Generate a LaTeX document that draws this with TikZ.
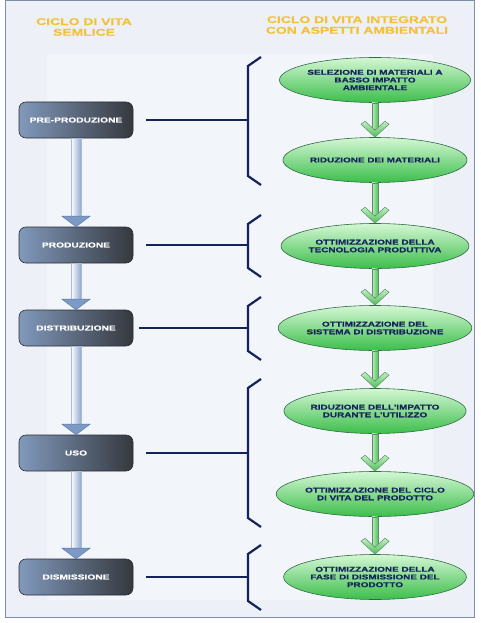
\documentclass[tikz,border=0pt]{standalone}
\usepackage{fontspec}
\usetikzlibrary{shapes.geometric,calc}
\newfontfamily\widefont{Liberation Sans}[UprightFont=* Bold, FakeStretch=1.42, FakeBold=0.6]
\definecolor{frameC}{HTML}{7D8EA8}
\definecolor{bgC}{HTML}{EDF1F7}
\definecolor{bgL}{HTML}{F2F5FA}
\definecolor{boxL}{HTML}{8199BC}
\definecolor{boxR}{HTML}{35383E}
\definecolor{boxB}{HTML}{2A2E36}
\definecolor{navyC}{HTML}{14245A}
\definecolor{goldC}{HTML}{F2C23C}
\definecolor{ellT}{HTML}{D4F7D4}
\definecolor{ellB}{HTML}{3CBE4A}
\definecolor{ellD}{HTML}{2F6A45}
\definecolor{arrB}{HTML}{7D9AC6}
\definecolor{arrBD}{HTML}{5C78A6}
\definecolor{arrG}{HTML}{4CBF55}
\definecolor{arrGL}{HTML}{C2EEC2}
\definecolor{arrGD}{HTML}{5F8C6C}
\tikzset{
  phase/.style={rounded corners=7pt, minimum width=114pt, minimum height=36pt,
    left color=boxL, right color=boxR, draw=boxB, line width=0.6pt,
    text=white, font=\widefont\fontsize{7.2}{7.7}\selectfont, inner sep=0pt},
  goal/.style={ellipse, minimum width=172pt, minimum height=45pt, inner sep=0pt,
    top color=ellT, bottom color=ellB, draw=ellD, line width=0.6pt,
    text=navyC, align=center, font=\widefont\fontsize{7}{7.7}\selectfont},
  heading/.style={text=goldC, align=center, font=\widefont\fontsize{9.8}{10.7}\selectfont},
  link/.style={draw=navyC, line width=2pt},
  bracket/.style={draw=navyC, line width=2.2pt, line join=miter},
  bshaft/.style={left color=white, right color=arrB!85, draw=arrBD!50, line width=0.4pt},
  bhead/.style={fill=arrB, draw=arrBD, line width=0.5pt},
  gshaft/.style={left color=arrGL, right color=arrG, draw=arrGD, line width=0.5pt},
  ghead/.style={top color=arrGL, bottom color=arrG, draw=arrGD, line width=0.5pt}
}
\newcommand\bluearrow[2]{%
  \path let \p1=(#1.south), \p2=(#2.north) in
    [bshaft] ({\x1-5pt},{\y1}) rectangle ({\x1+5pt},{\y2+10pt});
  \path let \p1=(#1.south), \p2=(#2.north) in
    [bhead] ({\x1-14pt},{\y2+10.5pt}) -- ({\x2},{\y2}) -- ({\x1+14pt},{\y2+10.5pt}) -- cycle;}
\newcommand\greenarrow[2]{%
  \path let \p1=(#1.south), \p2=(#2.north) in
    [gshaft] ({\x1-3.2pt},{\y1}) rectangle ({\x1+3.2pt},{\y2+8pt});
  \path let \p1=(#1.south), \p2=(#2.north) in
    [ghead] ({\x1-14pt},{\y2+13pt}) -- ({\x1-10pt},{\y2+16pt}) -- ({\x1},{\y2+7pt}) -- ({\x1+10pt},{\y2+16pt}) -- ({\x1+14pt},{\y2+13pt}) -- ({\x2},{\y2}) -- cycle;}
\newcommand\bracketpath[2]{%
  \draw[bracket] (261,#1) -- (248,{#1+9}) -- (248,{#2-9}) -- (261,#2);}
\begin{document}
\begin{tikzpicture}[x=1pt,y=-1pt]
\useasboundingbox (0,0) rectangle (481,623);
\fill[white] (0,0) rectangle (481,623);
\draw[frameC, fill=bgC, line width=1pt] (5,1) rectangle (474,617);
\fill[bgL] (47,54) rectangle (433,600);

% headings
\node[heading] (h1) at (84,27) {CICLO DI VITA\\SEMLICE};
\node[heading] (h2) at (357,25) {CICLO DI VITA INTEGRATO\\CON ASPETTI AMBIENTALI};

% left phases
\node[phase] (b1) at (76,120) {PRE-PRODUZIONE};
\node[phase] (b2) at (76,245) {PRODUZIONE};
\node[phase] (b3) at (76,328) {DISTRIBUZIONE};
\node[phase] (b4) at (76,453) {USO};
\node[phase] (b5) at (76,577) {DISMISSIONE};

\bluearrow{b1}{b2}
\bluearrow{b2}{b3}
\bluearrow{b3}{b4}
\bluearrow{b4}{b5}

% brackets
\coordinate (k1) at (248,120);
\coordinate (k2) at (248,245);
\coordinate (k3) at (248,328);
\coordinate (k4) at (248,453);
\coordinate (k5) at (248,577);
\bracketpath{57}{185}
\bracketpath{215}{277}
\bracketpath{297}{360}
\bracketpath{379}{527}
\bracketpath{545}{610}

\draw[link] ([xshift=13pt]b1.east) -- (k1);
\draw[link] ([xshift=13pt]b2.east) -- (k2);
\draw[link] ([xshift=6pt]b3.east) -- (k3);
\draw[link] ([xshift=13pt]b4.east) -- (k4);
\draw[link] ([xshift=13pt]b5.east) -- (k5);

% right goals
\node[goal] (e1) at (375,80) {SELEZIONE DI MATERIALI A\\BASSO IMPATTO\\AMBIENTALE};
\node[goal] (e2) at (375,160) {RIDUZIONE DEI MATERIALI};
\node[goal] (e3) at (375,246) {OTTIMIZZAZIONE DELLA\\TECNOLOGIA PRODUTTIVA};
\node[goal] (e4) at (375,328) {OTTIMIZZAZIONE DEL\\SISTEMA DI DISTRIBUZIONE};
\node[goal] (e5) at (375,411) {RIDUZIONE DELL'IMPATTO\\DURANTE L'UTILIZZO};
\node[goal] (e6) at (375,494) {OTTIMIZZAZIONE DEL CICLO\\DI VITA DEL PRODOTTO};
\node[goal] (e7) at (375,577) {OTTIMIZZAZIONE DELLA\\FASE DI DISMISSIONE DEL\\PRODOTTO};

\greenarrow{e1}{e2}
\greenarrow{e2}{e3}
\greenarrow{e3}{e4}
\greenarrow{e4}{e5}
\greenarrow{e5}{e6}
\greenarrow{e6}{e7}
\end{tikzpicture}
\end{document}
